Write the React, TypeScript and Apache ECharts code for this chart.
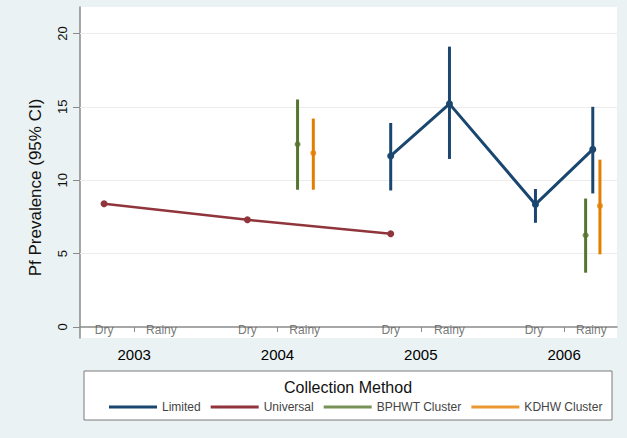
import React, { useEffect, useRef } from "react";
import * as echarts from "echarts";

// ---- data ----
const seasonX = [2002.79, 2003.19, 2003.79, 2004.19, 2004.79, 2005.2, 2005.79, 2006.19];
const seasonLabels = ["Dry", "Rainy", "Dry", "Rainy", "Dry", "Rainy", "Dry", "Rainy"];

const yearTicks = [2003, 2004, 2005, 2006];
const yTicks = [0, 5, 10, 15, 20];
const gridValues = [5, 10, 15, 20];

const universalX = [2002.79, 2003.79, 2004.79];
const universalY = [8.4, 7.3, 6.35];

const limitedX = [2004.79, 2005.2, 2005.8, 2006.2];
const limitedY = [11.65, 15.2, 8.35, 12.1];
const limitedLo = [9.3, 11.45, 7.1, 9.1];
const limitedHi = [13.9, 19.1, 9.4, 15.0];

const bphwtX = [2004.14, 2006.15];
const bphwtY = [12.45, 6.25];
const bphwtLo = [9.35, 3.7];
const bphwtHi = [15.5, 8.75];

const kdhwX = [2004.25, 2006.25];
const kdhwY = [11.85, 8.25];
const kdhwLo = [9.35, 4.95];
const kdhwHi = [14.2, 11.4];

const legendNames = ["Limited", "Universal", "BPHWT Cluster", "KDHW Cluster"];
const colors = { limited: "#1a476f", universal: "#90353b", bphwt: "#55752f", kdhw: "#e37e00" };

const FONT = "'Liberation Sans', Arial, sans-serif";

function pts(xs: number[], ys: number[]) {
  return xs.map((x, i) => [x, ys[i]]);
}
function bars(xs: number[], lo: number[], hi: number[]) {
  return xs.map((x, i) => [x, lo[i], hi[i]]);
}
function errorSeries(name: string, color: string, data: number[][]) {
  return {
    type: "custom",
    name,
    data,
    encode: { x: 0, y: [1, 2] },
    z: 3,
    renderItem: (params: any, api: any) => {
      const a = api.coord([api.value(0), api.value(1)]);
      const b = api.coord([api.value(0), api.value(2)]);
      return {
        type: "line",
        shape: { x1: a[0], y1: a[1], x2: b[0], y2: b[1] },
        style: { stroke: color, lineWidth: 3 },
      };
    },
  };
}

export default function App() {
  const ref = useRef<HTMLDivElement>(null);
  useEffect(() => {
    if (!ref.current) return;
    const chart = echarts.init(ref.current, null, { renderer: "svg" });
    chart.setOption({
      animation: false,
      backgroundColor: "#eaf2f3",
      grid: {
        left: 80,
        right: 10,
        top: 7,
        bottom: 100,
        show: true,
        backgroundColor: "#ffffff",
        borderWidth: 0,
      },
      xAxis: {
        type: "value",
        min: 2002.622,
        max: 2006.369,
        axisLine: { show: true, lineStyle: { color: "#8a8a8a", width: 1.5 } },
        axisTick: { show: true, customValues: yearTicks, length: 5, lineStyle: { color: "#8a8a8a" } },
        axisLabel: {
          customValues: yearTicks,
          formatter: (v: number) => String(Math.round(v)),
          fontSize: 15,
          color: "#000",
          fontFamily: FONT,
          margin: 9,
        },
        splitLine: { show: false },
      },
      yAxis: {
        type: "value",
        min: -0.75,
        max: 21.8,
        name: "Pf Prevalence (95% CI)",
        nameLocation: "middle",
        nameGap: 36,
        nameTextStyle: { fontSize: 17, color: "#111", fontFamily: FONT, padding: [0, 30, 0, 0] },
        axisLine: { show: true, lineStyle: { color: "#8a8a8a", width: 1.5 } },
        axisTick: { show: true, customValues: yTicks, length: 7, lineStyle: { color: "#8a8a8a" } },
        axisLabel: {
          customValues: yTicks,
          rotate: 90,
          fontSize: 13,
          color: "#111",
          fontFamily: FONT,
          margin: 11,
        },
        splitLine: { show: false },
      },
      legend: {
        data: legendNames,
        left: 109,
        top: 401,
        icon: "rect",
        itemWidth: 48,
        itemHeight: 3,
        itemGap: 10,
        padding: 0,
        textStyle: { fontSize: 12, color: "#444", fontFamily: FONT },
      },
      graphic: [
        {
          type: "rect",
          z: 0,
          shape: { x: 84, y: 371, width: 528, height: 49 },
          style: { fill: "#ffffff", stroke: "#7a7a7a", lineWidth: 1 },
          silent: true,
        },
        {
          type: "text",
          z: 1,
          x: 348,
          y: 387,
          style: {
            text: "Collection Method",
            fontSize: 16,
            fill: "#111",
            fontFamily: FONT,
            align: "center",
            verticalAlign: "middle",
          },
          silent: true,
        },
      ],
      series: [
        {
          type: "line",
          name: "Limited",
          data: pts(limitedX, limitedY),
          color: colors.limited,
          lineStyle: { width: 3, color: colors.limited },
          symbol: "circle",
          symbolSize: 7,
          itemStyle: { color: colors.limited },
          z: 4,
          markLine: {
            silent: true,
            symbol: "none",
            label: { show: false },
            lineStyle: { color: "#ececec", width: 1, type: "solid" },
            data: gridValues.map((v) => ({ yAxis: v })),
            z: 1,
          },
        },
        {
          type: "line",
          name: "Universal",
          data: pts(universalX, universalY),
          color: colors.universal,
          lineStyle: { width: 2.5, color: colors.universal },
          symbol: "circle",
          symbolSize: 7,
          itemStyle: { color: colors.universal },
          z: 4,
        },
        {
          type: "scatter",
          name: "BPHWT Cluster",
          data: pts(bphwtX, bphwtY),
          color: colors.bphwt,
          symbolSize: 6,
          itemStyle: { color: colors.bphwt },
          z: 4,
        },
        {
          type: "scatter",
          name: "KDHW Cluster",
          data: pts(kdhwX, kdhwY),
          color: colors.kdhw,
          symbolSize: 6,
          itemStyle: { color: colors.kdhw },
          z: 4,
        },
        errorSeries("Limited", colors.limited, bars(limitedX, limitedLo, limitedHi)),
        errorSeries("BPHWT Cluster", colors.bphwt, bars(bphwtX, bphwtLo, bphwtHi)),
        errorSeries("KDHW Cluster", colors.kdhw, bars(kdhwX, kdhwLo, kdhwHi)),
        {
          type: "scatter",
          name: "season",
          silent: true,
          symbolSize: 1,
          itemStyle: { color: "rgba(0,0,0,0)" },
          data: seasonX.map((x, i) => ({ value: [x, 0], name: seasonLabels[i] })),
          label: {
            show: true,
            position: "inside",
            offset: [0, 3],
            formatter: (p: any) => p.name,
            fontSize: 12,
            color: "#555",
            fontFamily: FONT,
          },
        },
      ],
    });
    return () => chart.dispose();
  }, []);
  return (
    <div
      ref={ref}
      style={{ position: "fixed", left: 0, top: 0, width: 627, height: 438 }}
    />
  );
}
